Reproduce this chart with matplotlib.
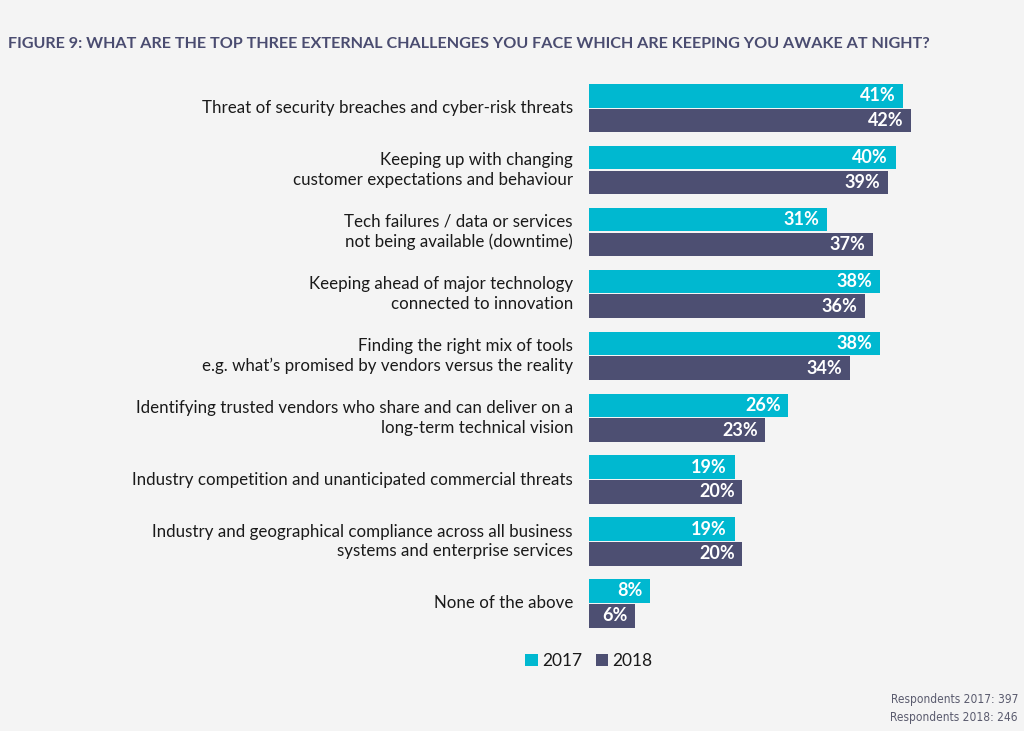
import matplotlib
matplotlib.use("Agg")
import matplotlib.pyplot as plt
import numpy as np

categories = [
    "Threat of security breaches and cyber-risk threats",
    "Keeping up with changing\ncustomer expectations and behaviour",
    "Tech failures / data or services\nnot being available (downtime)",
    "Keeping ahead of major technology\nconnected to innovation",
    "Finding the right mix of tools\ne.g. what\u2019s promised by vendors versus the reality",
    "Identifying trusted vendors who share and can deliver on a\nlong-term technical vision",
    "Industry competition and unanticipated commercial threats",
    "Industry and geographical compliance across all business\nsystems and enterprise services",
    "None of the above",
]
values_2017 = [41, 40, 31, 38, 38, 26, 19, 19, 8]
values_2018 = [42, 39, 37, 36, 34, 23, 20, 20, 6]
series_names = ["2017", "2018"]

C2017 = "#00b8d0"
C2018 = "#4d4f72"
BG = "#f4f4f4"
TITLE_C = "#4a4c70"

plt.rcParams['font.family'] = ['Lato', 'DejaVu Sans']

fig = plt.figure(figsize=(10.24, 7.31), dpi=100, facecolor=BG)
W, H = 1024, 731
left_px, right_px = 589, 1000
top_px, bot_px = 83.4, 640.5
ax = fig.add_axes([left_px / W, 1 - bot_px / H, (right_px - left_px) / W, (bot_px - top_px) / H])
ax.set_facecolor(BG)

px_per_unit = 7.67
ax.set_xlim(0, (right_px - left_px) / px_per_unit)
ax.set_ylim(8.6, -0.4)

y = np.arange(len(categories))
h = 0.38
b1 = ax.barh(y - 0.2, values_2017, height=h, color=C2017, label=series_names[0])
b2 = ax.barh(y + 0.2, values_2018, height=h, color=C2018, label=series_names[1])

for yi, v in zip(y, values_2017):
    ax.text(v - 1.0, yi - 0.2, f"{v}%", color="white", fontweight="bold",
            fontsize=13, ha="right", va="center")
for yi, v in zip(y, values_2018):
    ax.text(v - 1.0, yi + 0.2, f"{v}%", color="white", fontweight="bold",
            fontsize=13, ha="right", va="center")

for yi, cat in zip(y, categories):
    ax.text(-16 / px_per_unit, yi, cat, ha="right", va="center", fontsize=12.2,
            color="#1a1a1a", linespacing=1.3)

ax.axis("off")

fig.text(8 / W, 1 - 44 / H, "FIGURE 9: WHAT ARE THE TOP THREE EXTERNAL CHALLENGES YOU FACE WHICH ARE KEEPING YOU AWAKE AT NIGHT?",
         fontsize=11.6, fontweight="bold", color=TITLE_C, ha="left", va="center")

leg = fig.legend(handles=[b1, b2], labels=series_names, loc="center",
                 bbox_to_anchor=(589 / W, 1 - 661 / H), ncol=2, frameon=False,
                 handlelength=0.7, handleheight=0.7, handletextpad=0.25,
                 columnspacing=0.8, fontsize=12.5)
for t in leg.get_texts():
    t.set_color("#1a1a1a")

fig.text(1018 / W, 1 - 700 / H, "Respondents 2017: 397", fontsize=8.6, color="#5a5b6e",
         ha="right", va="center", family="DejaVu Sans", fontstretch="condensed")
fig.text(1018 / W, 1 - 718 / H, "Respondents 2018: 246", fontsize=8.6, color="#5a5b6e",
         ha="right", va="center", family="DejaVu Sans", fontstretch="condensed")

fig.savefig("out.png", dpi=100, facecolor=BG)
